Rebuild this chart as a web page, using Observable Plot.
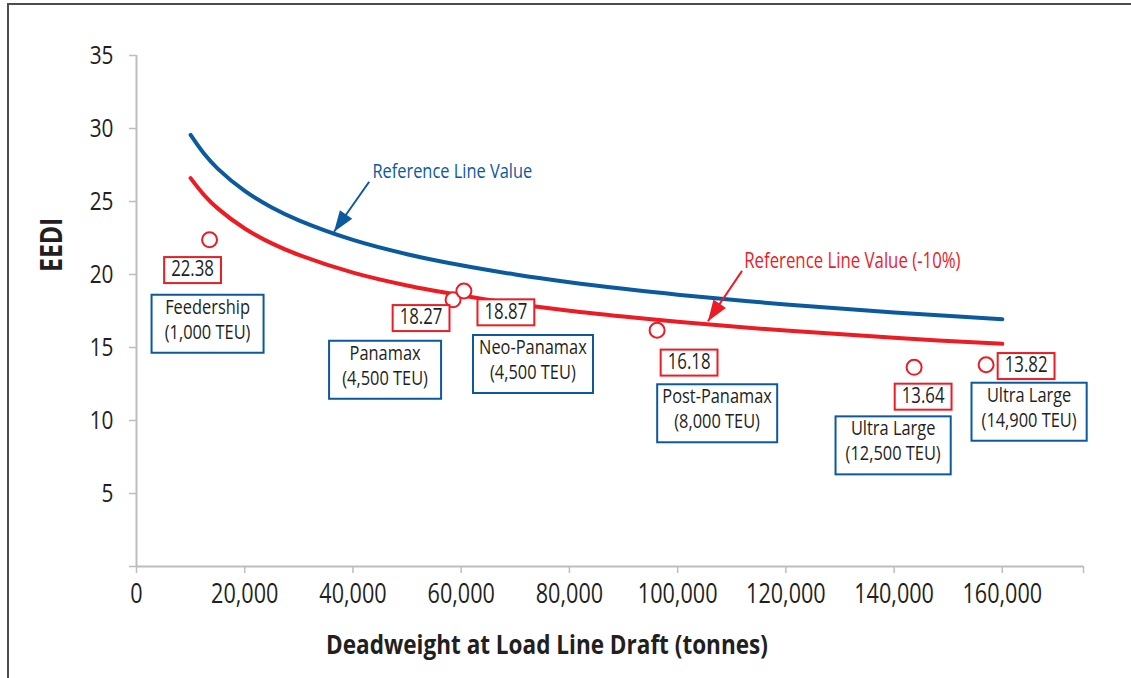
<!DOCTYPE html>
<html>
<head>
<meta charset="utf-8">
<script src="https://cdn.jsdelivr.net/npm/d3@7"></script>
<script src="https://cdn.jsdelivr.net/npm/@observablehq/plot@0.6"></script>
<style>
html, body { margin: 0; padding: 0; background: #fff; }
#wrap { position: relative; width: 1131px; height: 678px; overflow: hidden; }
#frame { position: absolute; left: 7px; top: 3px; width: 1200px; height: 760px; border: 2px solid #4d4d4d; box-sizing: border-box; }
#chart { position: absolute; left: 0; top: 0; }
</style>
</head>
<body>
<div id="wrap"><div id="frame"></div><div id="chart"></div></div>
<script>
// ---------- data ----------
const refDwt    = [10000, 12500, 15000, 20000, 25000, 30000, 40000, 50000, 60000, 70000, 80000, 90000, 100000, 120000, 140000, 160000];
const refLine   = [29.56, 28.27, 27.25, 25.72, 24.59, 23.71, 22.37, 21.39, 20.63, 20.00, 19.47, 19.02, 18.62, 17.95, 17.40, 16.94];
const refLine90 = [26.60, 25.44, 24.53, 23.15, 22.13, 21.34, 20.13, 19.25, 18.57, 18.00, 17.52, 17.12, 16.76, 16.16, 15.66, 15.25];

const shipClass = ["Feedership", "Panamax", "Neo-Panamax", "Post-Panamax", "Ultra Large", "Ultra Large"];
const shipTeu   = ["1,000 TEU", "4,500 TEU", "4,500 TEU", "8,000 TEU", "12,500 TEU", "14,900 TEU"];
const shipDwt   = [13500, 58500, 60500, 96200, 143700, 157000];
const shipEedi  = [22.38, 18.27, 18.87, 16.18, 13.64, 13.82];

const xTicks = [0, 20000, 40000, 60000, 80000, 100000, 120000, 140000, 160000];
const yTicks = [0, 5, 10, 15, 20, 25, 30, 35];
const xLabel = "Deadweight at Load Line Draft (tonnes)";
const yLabel = "EEDI";
const refName = "Reference Line Value";
const refName90 = "Reference Line Value (-10%)";

// ---------- layout / style ----------
const FONT = '"Open Sans", "Noto Sans", sans-serif';
const SX = 0.8;        // horizontal condensing of text
const SX_TITLE = 0.835;
const BLUE = "#0b5a9e", RED = "#ec1c24", TEXT = "#231f20", GRAY = "#bdbdbd";
const X_END = 175000;

// annotation anchors (data units)
const notes = [
  {text: refName,   color: BLUE, tx: 43600,  ty: 26.6,  x1: 43000,  y1: 26.35, x2: 36500,  y2: 22.93, rot: 215, fs: 20.5},
  {text: refName90, color: RED,  tx: 112300, ty: 20.44, x1: 111900, y1: 20.25, x2: 105600, y2: 16.8,  rot: 214, fs: 21}
];
// pixel offsets of label-box centres from each ship point
const valOff  = [[-17, 30], [-32, 18], [42, 21], [32, 32], [9, 29], [40, 1]];
const nameOff = [[-2, 84], [-68, 70], [69, 73], [60, 83], [-21, 78], [43, 47]];
const NAME_Y = 5.4;

const curveData = refDwt.map((d, i) => ({dwt: d, v: refLine[i], v90: refLine90[i]}));
const ships = shipClass.map((c, i) => ({cls: c, teu: shipTeu[i], dwt: shipDwt[i], eedi: shipEedi[i]}));

const headSym = {
  draw(ctx) {
    ctx.moveTo(0, 0);
    ctx.lineTo(7.5, 21);
    ctx.lineTo(-7.5, 21);
    ctx.closePath();
  }
};

const marks = [
  Plot.ruleY([0], {stroke: GRAY, strokeWidth: 2}),
  Plot.ruleX([0], {y1: 0, y2: 35, stroke: GRAY, strokeWidth: 2}),
  Plot.axisX([...xTicks, X_END], {
    tickFormat: d => d === X_END ? "" : d3.format(",")(d),
    tickSize: 7, tickPadding: 10, fontSize: 27, stroke: GRAY, strokeWidth: 1.5, fill: TEXT, label: null
  }),
  Plot.axisY(yTicks, {
    tickFormat: d => d === 0 ? "" : String(d),
    tickSize: 7, tickPadding: 16, fontSize: 26, stroke: GRAY, strokeWidth: 1.5, fill: TEXT, label: null
  }),
  Plot.line(curveData, {x: "dwt", y: "v", stroke: BLUE, strokeWidth: 4, curve: "catmull-rom"}),
  Plot.line(curveData, {x: "dwt", y: "v90", stroke: RED, strokeWidth: 4, curve: "catmull-rom"}),
  Plot.dot(ships, {x: "dwt", y: "eedi", r: 7.5, stroke: RED, fill: "white", strokeWidth: 2}),
  Plot.text([xLabel], {frameAnchor: "bottom", dx: -63, dy: 87, lineAnchor: "bottom", fontWeight: "bold", fontSize: 27, fill: TEXT, ariaDescription: "xtitle"}),
  Plot.text([yLabel], {frameAnchor: "left", rotate: -90, dx: -84, dy: -39, lineAnchor: "middle", fontWeight: "bold", fontSize: 31, fill: TEXT})
];

notes.forEach(n => {
  marks.push(Plot.link([n], {x1: "x1", y1: "y1", x2: "x2", y2: "y2", stroke: n.color, strokeWidth: 2}));
  marks.push(Plot.dot([n], {x: "x2", y: "y2", symbol: headSym, r: 5, fill: n.color, stroke: "none", rotate: n.rot}));
  marks.push(Plot.text([n], {x: "tx", y: "ty", text: "text", textAnchor: "start", lineAnchor: "bottom", fontSize: n.fs, fill: n.color}));
});

ships.forEach((s, i) => {
  marks.push(Plot.text([s], {
    x: "dwt", y: "eedi", text: d => d3.format(".2f")(d.eedi),
    dx: valOff[i][0], dy: valOff[i][1], fontSize: 21, fill: TEXT, ariaDescription: "valbox"
  }));
  marks.push(Plot.text([s], {
    x: "dwt", y: "eedi", text: d => `${d.cls}\n(${d.teu})`,
    dx: nameOff[i][0], dy: nameOff[i][1] - NAME_Y, fontSize: 20.5, lineHeight: 1.22, fill: TEXT, ariaDescription: "namebox"
  }));
});

const chart = Plot.plot({
  width: 1131,
  height: 678,
  marginLeft: 136,
  marginRight: 48,
  marginTop: 55,
  marginBottom: 112,
  x: {domain: [0, X_END]},
  y: {domain: [0, 35]},
  style: {fontFamily: FONT, background: "transparent", overflow: "visible"},
  marks
});
document.getElementById("chart").appendChild(chart);

// draw label boxes behind the annotation texts
function boxify(svg, desc, color, padX, h, minW, maxW, yOff) {
  svg.querySelectorAll(`g[aria-description="${desc}"] text`).forEach(t => {
    const b = t.getBBox();
    const w = Math.min(maxW, Math.max(b.width * SX + 2 * padX, minW));
    const cx = (b.x + b.width / 2) * SX;
    const ay = parseFloat(t.getAttribute("y")) || 0;
    const r = document.createElementNS("http://www.w3.org/2000/svg", "rect");
    r.setAttribute("x", cx - w / 2);
    r.setAttribute("y", ay + yOff - h / 2);
    r.setAttribute("width", w);
    r.setAttribute("height", h);
    r.setAttribute("fill", "white");
    r.setAttribute("stroke", color);
    r.setAttribute("stroke-width", 2);
    const tr = t.getAttribute("transform");
    if (tr) r.setAttribute("transform", tr);
    t.parentNode.insertBefore(r, t);
  });
}
boxify(chart, "valbox", RED, 7, 26, 0, 1000, 0);
boxify(chart, "namebox", BLUE, 10, 58, 112, 120, NAME_Y);

// condense all text horizontally (narrow typeface look)
chart.querySelectorAll("text").forEach(t => {
  const g = t.closest("g[aria-description]");
  const s = g && g.getAttribute("aria-description") === "xtitle" ? SX_TITLE : SX;
  const tr = t.getAttribute("transform") || "";
  t.setAttribute("transform", `${tr} scale(${s},1)`);
});
</script>
</body>
</html>
